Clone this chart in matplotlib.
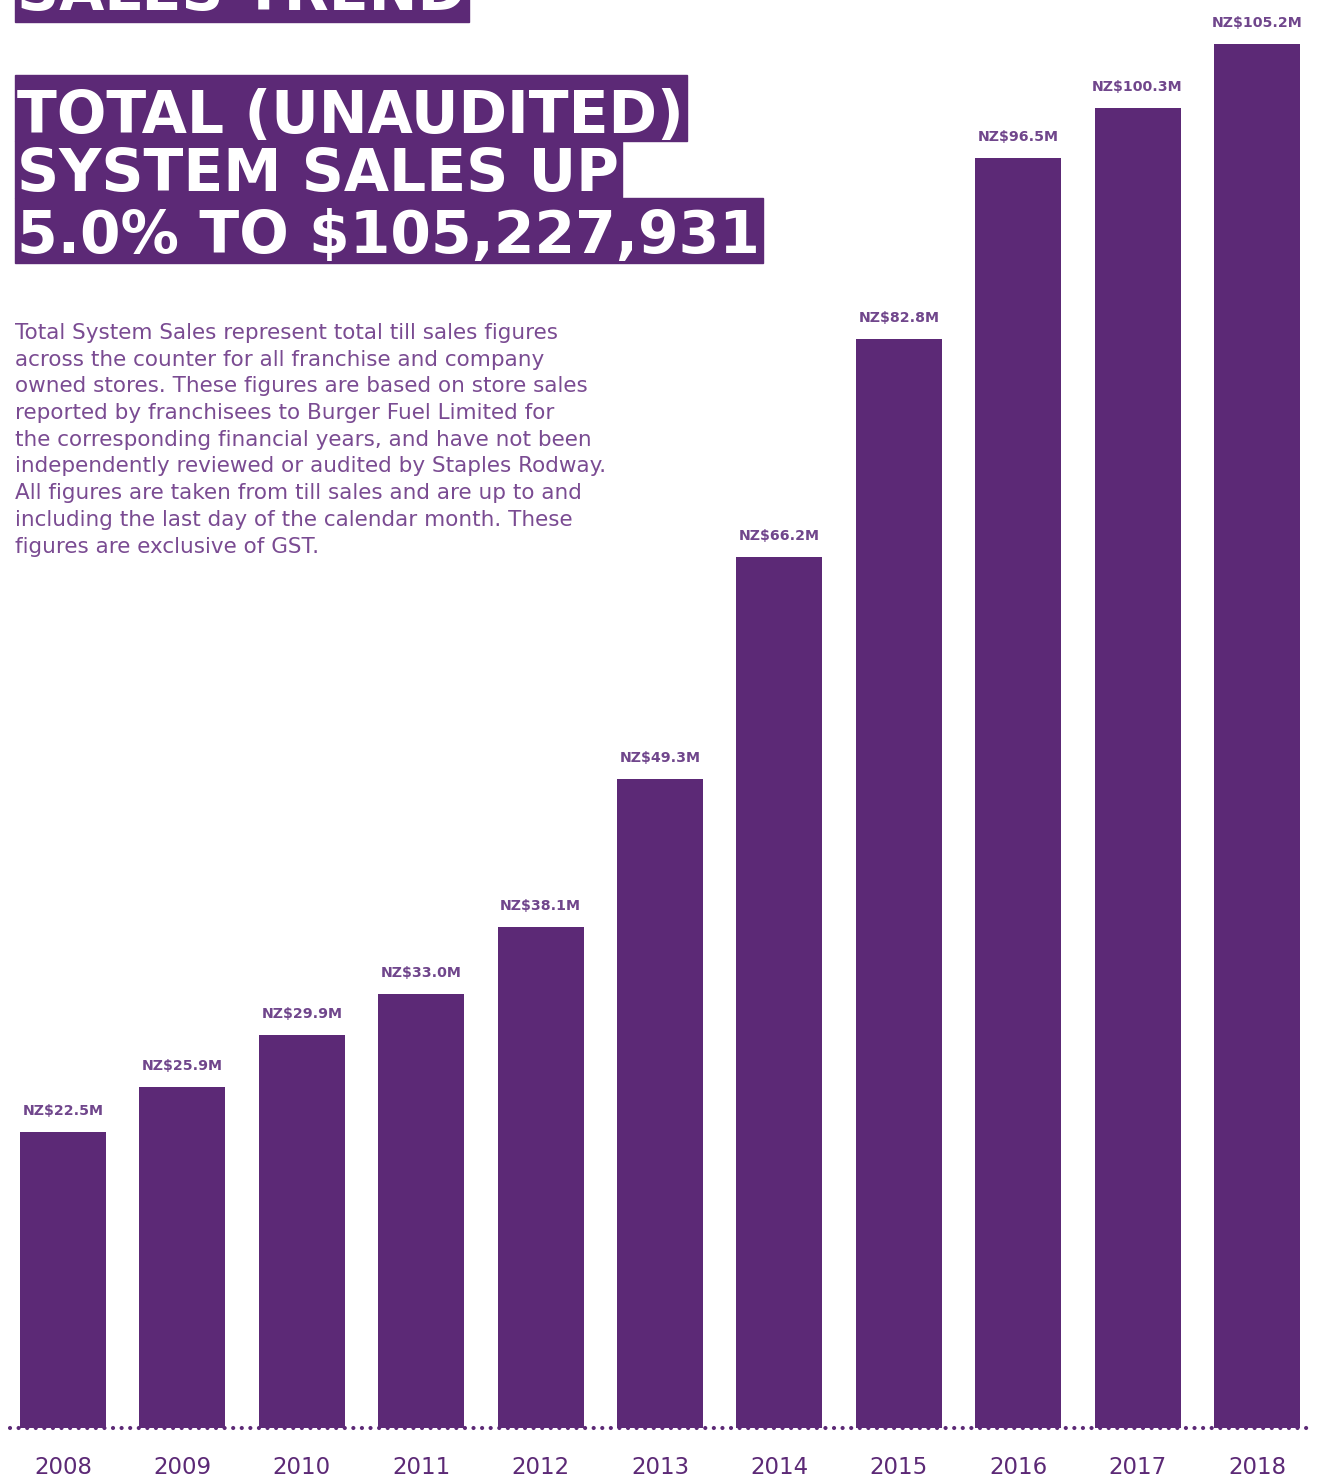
import matplotlib.pyplot as plt
from matplotlib.patches import Rectangle

# data
years = ["2008", "2009", "2010", "2011", "2012", "2013", "2014", "2015", "2016", "2017", "2018"]
sales = [22.5, 25.9, 29.9, 33.0, 38.1, 49.3, 66.2, 82.8, 96.5, 100.3, 105.2]
value_labels = ["NZ\\$%.1fM" % v for v in sales]

section_title = "SALES TREND"
headline = ["TOTAL (UNAUDITED)", "SYSTEM SALES UP", "5.0% TO \\$105,227,931"]
blurb = [
    "Total System Sales represent total till sales figures",
    "across the counter for all franchise and company",
    "owned stores. These figures are based on store sales",
    "reported by franchisees to Burger Fuel Limited for",
    "the corresponding financial years, and have not been",
    "independently reviewed or audited by Staples Rodway.",
    "All figures are taken from till sales and are up to and",
    "including the last day of the calendar month. These",
    "figures are exclusive of GST.",
]

purple = "#5C2976"
label_purple = "#70468C"
text_purple = "#7A4B92"

W, H = 1317, 1482
fig = plt.figure(figsize=(W / 100, H / 100), dpi=100)
fig.patch.set_facecolor("white")

def fx(px):
    return px / W

def fy(py):
    return 1 - py / H

# bar chart
ax = fig.add_axes([0, 54 / H, 1, 1428 / H])
ax.set_xlim(-0.528, 10.503)
ax.set_ylim(0, 108.54)
ax.axis("off")

x = list(range(len(years)))
ax.bar(x, sales, width=0.72, color=purple, zorder=2)
# dotted baseline
ax.plot([-0.444, 10.44], [0, 0], color=purple, lw=3,
        linestyle=(0, (0.01, 2.05)), dash_capstyle="round",
        clip_on=False, zorder=3)

for i, v in enumerate(sales):
    ax.annotate(value_labels[i], (i, v), xytext=(0, 21), textcoords="offset pixels",
                ha="center", va="center", fontsize=10.2, fontweight="bold",
                color=label_purple)
    ax.annotate(years[i], (i, 0), xytext=(0, -40), textcoords="offset pixels",
                ha="center", va="center", fontsize=16.5, color=purple)

# headline blocks
title_kw = dict(fontsize=42, fontweight="bold", color="white", va="baseline",
                ha="left", zorder=5)
texts = []
texts.append((fig.text(fx(17), fy(10), section_title, **title_kw), -20, 22))
baselines = [133, 191, 253]
rows = [(75, 141), (141, 198), (198, 263)]
for line, base, (top, bot) in zip(headline, baselines, rows):
    texts.append((fig.text(fx(17), fy(base), line, **title_kw), top, bot))

fig.canvas.draw()
renderer = fig.canvas.get_renderer()
for t, top, bot in texts:
    bb = t.get_window_extent(renderer)
    right = bb.x1 + 3
    fig.patches.append(Rectangle((fx(15), fy(bot)), fx(right - 15), (bot - top) / H,
                                 transform=fig.transFigure, color=purple,
                                 zorder=1, figure=fig))

# description
for i, line in enumerate(blurb):
    fig.text(fx(15), fy(333 + i * 26.7), line, fontsize=15.5, color=text_purple,
             ha="left", va="center")

plt.savefig("out.png", dpi=100, facecolor="white")
